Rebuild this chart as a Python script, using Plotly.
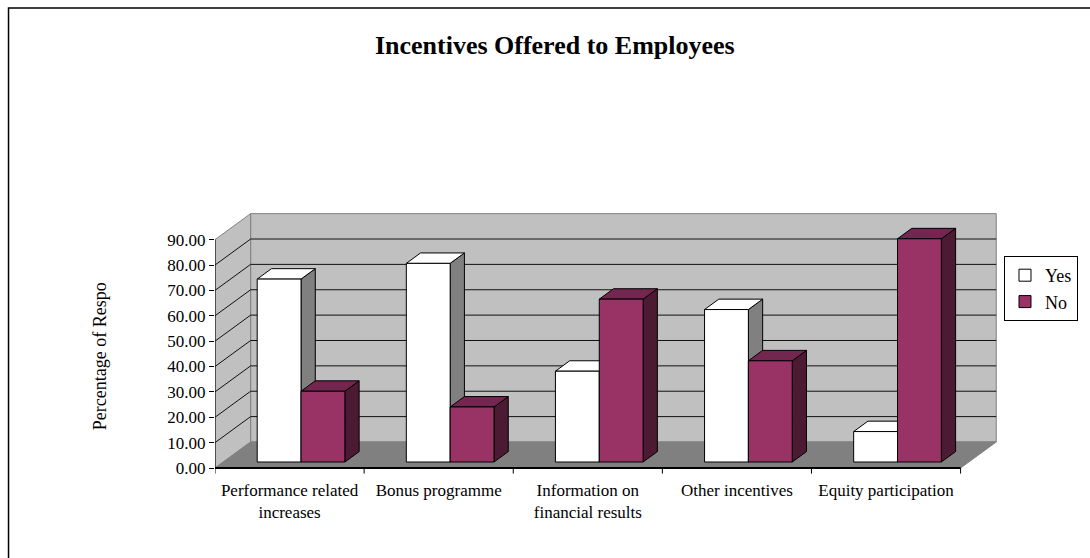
import plotly.graph_objects as go

# ---- data -------------------------------------------------------------
categories = [
    "Performance related<br>increases",
    "Bonus programme",
    "Information on<br>financial results",
    "Other incentives",
    "Equity participation",
]
series_names = ["Yes", "No"]
yes_values = [72.1, 78.3, 35.8, 60.1, 12.0]
no_values = [27.9, 21.7, 64.2, 39.9, 88.0]
y_ticks = [0, 10, 20, 30, 40, 50, 60, 70, 80, 90]

# ---- pseudo-3D geometry (in data units) -------------------------------
N = len(categories)
Y_MAX = 90
DEPTH_X = 0.239      # horizontal shift of the back plane, in category units
DEPTH_Y = 10.26      # vertical shift of the back plane, in value units
BAR_W = 0.294        # bar width, category units
BAR_LEFT = 0.228     # offset of the first bar inside a category
BAR_D0 = 0.23        # depth fraction of the bar front faces
BAR_DEPTH = 0.40     # depth fraction occupied by each bar

FACE = {
    "Yes": dict(front="#ffffff", top="#ffffff", side="#808080"),
    "No": dict(front="#993366", top="#73264f", side="#4c1a33"),
}
FONT = "Liberation Serif, Times New Roman, serif"


def proj(x, v, d):
    """Oblique projection of (category x, value v, depth d) onto the plane."""
    return x + d * DEPTH_X, v + d * DEPTH_Y


def poly(points, fill, line="#000000", width=1):
    xs, ys = zip(*points)
    return go.Scatter(
        x=list(xs) + [xs[0]], y=list(ys) + [ys[0]], mode="lines",
        fill="toself", fillcolor=fill, line=dict(color=line, width=width),
        hoverinfo="skip", showlegend=False,
    )


def seg(p0, p1, color="#000000", width=1):
    return go.Scatter(
        x=[p0[0], p1[0]], y=[p0[1], p1[1]], mode="lines",
        line=dict(color=color, width=width), hoverinfo="skip", showlegend=False,
    )


traces = []

# walls and floor
traces.append(poly([proj(0, 0, 1), proj(N, 0, 1), proj(N, Y_MAX, 1), proj(0, Y_MAX, 1)],
                   "#c0c0c0", "#808080"))
traces.append(poly([proj(0, 0, 0), proj(0, Y_MAX, 0), proj(0, Y_MAX, 1), proj(0, 0, 1)],
                   "#c0c0c0", "#808080"))
traces.append(poly([proj(0, 0, 0), proj(N, 0, 0), proj(N, 0, 1), proj(0, 0, 1)],
                   "#808080", "#808080"))

# gridlines on side wall and back wall
for t in y_ticks[1:-1]:
    traces.append(seg(proj(0, t, 0), proj(0, t, 1), "#111111"))
    traces.append(seg(proj(0, t, 1), proj(N, t, 1), "#111111"))

# bars, drawn left to right so nearer faces cover hidden ones
for i in range(N):
    for s, (name, vals) in enumerate(zip(series_names, [yes_values, no_values])):
        v = vals[i]
        x0 = i + BAR_LEFT + s * BAR_W
        x1 = x0 + BAR_W
        d0, d1 = BAR_D0, BAR_D0 + BAR_DEPTH
        c = FACE[name]
        side = [proj(x1, 0, d0), proj(x1, v, d0), proj(x1, v, d1), proj(x1, 0, d1)]
        top = [proj(x0, v, d0), proj(x1, v, d0), proj(x1, v, d1), proj(x0, v, d1)]
        front = [proj(x0, 0, d0), proj(x1, 0, d0), proj(x1, v, d0), proj(x0, v, d0)]
        traces.append(poly(side, c["side"]))
        traces.append(poly(top, c["top"]))
        traces.append(poly(front, c["front"]))

# axis lines and category tick marks
traces.append(seg((0, 0), (0, Y_MAX), "#000000", 1))
traces.append(seg((0, 0), (N, 0), "#000000", 2))
for i in range(N + 1):
    traces.append(seg((i, 0), (i, -2.2), "#000000", 1))

# legend entries
for name in series_names:
    traces.append(go.Bar(
        x=[None], y=[None], name=name,
        marker=dict(color=FACE[name]["front"], line=dict(color="#000000", width=1)),
    ))

fig = go.Figure(traces)

W, H = 1090, 558
L, R, T, B = 215, 1000, 200, 478
PX_PER_CAT = 149.5
PX_PER_VAL = 2.537
x_range = [0, (R - L) / PX_PER_CAT]
y_range = [-(B - 468) / PX_PER_VAL, (468 - T) / PX_PER_VAL]

fig.update_layout(
    width=W, height=H,
    margin=dict(l=L, r=W - R, t=T, b=H - B),
    paper_bgcolor="#ffffff", plot_bgcolor="#ffffff",
    font=dict(family=FONT, size=17, color="#000000"),
    title=dict(text="<b>Incentives Offered to Employees</b>",
               font=dict(family=FONT, size=26, color="#000000"),
               x=0.509, xanchor="center", y=1 - 45 / H, yanchor="middle"),
    xaxis=dict(range=x_range, tickvals=[i + 0.5 for i in range(N)], ticktext=categories,
               ticks="", showgrid=False, zeroline=False, showline=False, fixedrange=True,
               tickfont=dict(family=FONT, size=17)),
    yaxis=dict(range=y_range, tickvals=y_ticks, ticktext=[f"{t:.2f}" for t in y_ticks],
               ticks="outside", ticklen=5, tickcolor="#000000", tickwidth=1,
               showgrid=False, zeroline=False, showline=False, fixedrange=True,
               tickfont=dict(family=FONT, size=17)),
    legend=dict(x=(1006 - L) / (R - L), xanchor="left", y=(B - 256) / (B - T), yanchor="top",
                bgcolor="#ffffff", bordercolor="#000000", borderwidth=1,
                font=dict(family=FONT, size=18), tracegroupgap=2, itemwidth=30),
    bargap=0,
    showlegend=True,
    annotations=[dict(
        text="Percentage of Respo", textangle=-90, showarrow=False,
        xref="paper", yref="paper", x=(100 - L) / (R - L), y=(B - 356) / (B - T),
        xanchor="center", yanchor="middle", font=dict(family=FONT, size=18),
    )],
    shapes=[dict(type="rect", xref="paper", yref="paper", layer="below",
                 x0=(8 - L) / (R - L), x1=(1100 - L) / (R - L),
                 y0=(B - 570) / (B - T), y1=(B - 8) / (B - T),
                 line=dict(color="#000000", width=1.5), fillcolor="rgba(0,0,0,0)")],
)

fig.write_html("out.html")
